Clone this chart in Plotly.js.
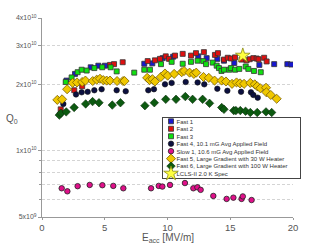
<!DOCTYPE html>
<html>
<head>
<meta charset="utf-8">
<script src="https://cdn.plot.ly/plotly-3.0.1.min.js"></script>
<style>html,body{margin:0;padding:0;background:#fff;}#chart{width:325px;height:244px;}</style>
</head>
<body>
<div id="chart"></div>
<script>
// ---- data (E_acc in MV/m, Q0) ----
const fast1E = [1.95, 2.63, 3.88, 4.49, 5.02, 8.15, 8.79, 9.62, 10.45, 12.45, 13.12, 13.97, 14.5, 15.32, 17.32, 18.5, 19.55, 19.87];
const fast1Q = [2.08e10, 2.23e10, 2.39e10, 2.43e10, 2.43e10, 2.48e10, 2.49e10, 2.63e10, 2.67e10, 2.68e10, 2.63e10, 2.61e10, 2.56e10, 2.50e10, 2.45e10, 2.47e10, 2.47e10, 2.46e10];

const fast2E = [1.49, 2.57, 3.2, 5.42, 5.74, 6.43, 8.42, 9.0, 9.4, 9.86, 10.12, 10.6, 11.21, 11.87, 12.27, 12.9, 13.78, 14.02, 14.5, 14.8, 15.05, 15.38, 15.9, 16.3, 16.55, 16.84, 17.1, 17.25, 17.7, 17.9];
const fast2Q = [1.54e10, 1.88e10, 1.96e10, 2.45e10, 2.47e10, 2.52e10, 2.55e10, 2.57e10, 2.61e10, 2.68e10, 2.61e10, 2.70e10, 2.75e10, 2.70e10, 2.77e10, 2.80e10, 2.72e10, 2.77e10, 2.59e10, 2.64e10, 2.62e10, 2.65e10, 2.59e10, 2.57e10, 2.60e10, 2.63e10, 2.62e10, 2.60e10, 2.64e10, 2.54e10];

const fast3E = [1.89, 2.36, 2.84, 3.16, 3.56, 4.17, 4.8, 5.47, 5.95, 7.35, 8.15, 8.6, 9.48, 10.33, 11.21, 11.87, 12.4, 12.85, 13.07, 13.6, 13.92, 14.1, 14.3, 14.5, 14.92, 15.05, 15.38, 15.72, 16.23, 16.44, 16.89, 17.43];
const fast3Q = [2.05e10, 2.15e10, 2.27e10, 2.33e10, 2.31e10, 2.37e10, 2.39e10, 2.39e10, 2.29e10, 2.26e10, 2.33e10, 2.33e10, 2.47e10, 2.53e10, 2.48e10, 2.53e10, 2.56e10, 2.55e10, 2.47e10, 2.51e10, 2.43e10, 2.37e10, 2.30e10, 2.33e10, 2.33e10, 2.37e10, 2.33e10, 2.35e10, 2.41e10, 2.35e10, 2.30e10, 2.27e10];

const fast4E = [1.7, 2.71, 3.16, 3.64, 4.17, 4.75, 5.95, 6.67, 8.47, 8.92, 9.8, 10.33, 11.45, 12.4, 12.93, 13.97, 14.77, 15.86, 16.65, 16.84, 17.19];
const fast4Q = [1.63e10, 1.80e10, 1.84e10, 1.85e10, 1.88e10, 1.90e10, 1.88e10, 1.86e10, 1.88e10, 1.90e10, 2.00e10, 2.03e10, 2.05e10, 2.04e10, 2.00e10, 1.91e10, 1.87e10, 1.85e10, 1.84e10, 1.79e10, 1.74e10];

const slow1E = [1.57, 2.02, 2.84, 3.8, 4.81, 5.68, 6.48, 8.69, 9.3, 9.59, 10.2, 11.39, 12.06, 12.38, 12.64, 13.65, 14.71, 15.25, 15.9, 16.0, 16.7];
const slow1Q = [6.75e9, 6.54e9, 6.9e9, 6.99e9, 6.97e9, 6.92e9, 6.75e9, 6.75e9, 6.92e9, 6.87e9, 6.99e9, 7.13e9, 6.75e9, 6.82e9, 6.64e9, 6.23e9, 6.04e9, 6.12e9, 6.04e9, 6.2e9, 5.97e9];

const fast5E = [1.22, 1.6, 2.0, 2.44, 2.79, 3.2, 3.46, 4.04, 4.36, 4.62, 4.88, 5.15, 5.42, 5.98, 6.45, 6.58, 8.38, 8.58, 8.8, 9.0, 9.47, 9.8, 10.01, 10.53, 11.13, 11.32, 11.76, 12.1, 12.29, 12.87, 13.29, 13.75, 14.31, 14.66, 15.14, 15.5, 15.78, 16.1, 16.6, 16.95, 17.15, 17.4, 17.85, 17.88, 18.23, 18.7];
const fast5Q = [1.70e10, 1.71e10, 1.90e10, 2.03e10, 2.04e10, 2.05e10, 2.08e10, 2.07e10, 2.10e10, 2.12e10, 2.09e10, 2.08e10, 2.08e10, 2.07e10, 2.07e10, 2.07e10, 2.14e10, 2.09e10, 2.11e10, 2.06e10, 2.16e10, 2.24e10, 2.19e10, 2.23e10, 2.27e10, 2.30e10, 2.26e10, 2.23e10, 2.26e10, 2.16e10, 2.14e10, 2.08e10, 2.08e10, 2.06e10, 2.01e10, 2.04e10, 2.02e10, 2.01e10, 2.03e10, 2.00e10, 1.96e10, 1.92e10, 1.93e10, 1.84e10, 1.79e10, 1.72e10];

const fast6E = [1.38, 1.51, 1.93, 2.56, 3.48, 4.03, 4.54, 5.6, 6.25, 8.2, 8.95, 9.86, 10.68, 11.42, 12.0, 12.8, 13.35, 14.32, 14.5, 15.28, 15.45, 15.8, 16.22, 16.6, 17.15, 17.85, 18.3];
const fast6Q = [1.45e10, 1.48e10, 1.50e10, 1.57e10, 1.63e10, 1.67e10, 1.65e10, 1.61e10, 1.65e10, 1.60e10, 1.65e10, 1.71e10, 1.71e10, 1.76e10, 1.71e10, 1.71e10, 1.64e10, 1.57e10, 1.54e10, 1.52e10, 1.52e10, 1.52e10, 1.51e10, 1.49e10, 1.49e10, 1.50e10, 1.49e10];

const specE = [16];
const specQ = [2.7e10];

const seriesNames = [
  'Fast 1', 'Fast 2', 'Fast 3',
  'Fast 4, 10.1 mG Avg Applied Field',
  'Slow 1, 10.6 mG Avg Applied Field',
  'Fast 5, Large Gradient with 30 W Heater',
  'Fast 6, Large Gradient with 100 W Heater',
  'LCLS-II 2.0 K Spec'
];

const yTickVals = [5e9, 1e10, 2e10, 3e10, 4e10];
const yTickText = ['5x10<sup>9</sup>', '1x10<sup>10</sup>', '2x10<sup>10</sup>', '3x10<sup>10</sup>', '4x10<sup>10</sup>'];
const yMinorGrid = [6e9, 7e9, 8e9, 9e9];
const xTickVals = [0, 5, 10, 15, 20];

function mk(x, y, name, symbol, fill, line, size, lw) {
  return {
    type: 'scatter', mode: 'markers', x: x, y: y, name: name,
    marker: {symbol: symbol, color: fill, size: size, line: {color: line, width: lw}}
  };
}

const traces = [
  mk(fast1E, fast1Q, seriesNames[0], 'square', '#1818d0', '#333', 5, 0.8),
  mk(fast2E, fast2Q, seriesNames[1], 'square', '#e01010', '#333', 5, 0.8),
  mk(fast3E, fast3Q, seriesNames[2], 'square', '#10e010', '#333', 5, 0.8),
  mk(fast4E, fast4Q, seriesNames[3], 'circle', '#0c1040', '#111', 5.5, 0.6),
  mk(slow1E, slow1Q, seriesNames[4], 'circle', '#e0108a', '#222', 5.5, 0.8),
  mk(fast5E, fast5Q, seriesNames[5], 'diamond', '#f0c800', '#7a6000', 7, 0.8),
  mk(fast6E, fast6Q, seriesNames[6], 'diamond', '#0c5a10', '#0a2a0a', 6.5, 0.6),
  mk(specE, specQ, seriesNames[7], 'star', '#ffff40', '#8a8a10', 11, 0.8)
];

const grey = '#555';
const layout = {
  width: 325, height: 244,
  margin: {l: 42, r: 32, t: 18, b: 27, pad: 0},
  paper_bgcolor: '#fff', plot_bgcolor: '#fff',
  font: {family: 'Liberation Sans, Arial, sans-serif', color: grey, size: 9},
  showlegend: true,
  legend: {
    x: 0, y: 1, xanchor: 'left', yanchor: 'top',
    bgcolor: '#fff', bordercolor: '#444', borderwidth: 1,
    font: {size: 6, color: '#333', family: 'Liberation Sans, Arial, sans-serif'}
  },
  xaxis: {
    range: [0, 20], tickmode: 'array', tickvals: xTickVals,
    showgrid: false, zeroline: false, showline: true, linecolor: '#999', linewidth: 1,
    ticks: 'outside', ticklen: 2, tickcolor: '#999',
    tickfont: {size: 9.5, color: grey}, automargin: false
  },
  yaxis: {
    type: 'log', range: [Math.log10(5e9), Math.log10(4e10)],
    tickmode: 'array', tickvals: yTickVals, ticktext: yTickText,
    showgrid: true, gridcolor: '#d4d4d4', gridwidth: 1, griddash: '3px,2px',
    minor: {tickmode: 'array', tickvals: yMinorGrid, showgrid: true, gridcolor: '#d4d4d4',
            gridwidth: 1, griddash: '3px,2px', ticks: 'outside', ticklen: 2, tickcolor: '#999'},
    zeroline: false, showline: true, linecolor: '#999', linewidth: 1,
    ticks: 'outside', ticklen: 3, tickcolor: '#999',
    tickfont: {size: 7, color: grey}, automargin: false
  },
  annotations: [
    {xref: 'paper', yref: 'paper', x: 0.5, y: -0.108, xanchor: 'center', yanchor: 'middle',
     text: 'E<sub>acc</sub> [MV/m]', showarrow: false, font: {size: 10, color: grey}},
    {xref: 'paper', yref: 'paper', x: -0.12, y: 0.49, xanchor: 'center', yanchor: 'middle',
     text: 'Q<sub>0</sub>', showarrow: false, font: {size: 10, color: grey}}
  ]
};

const gd = document.getElementById('chart');
Plotly.newPlot(gd, traces, layout, {staticPlot: true, displayModeBar: false}).then(function () {
  // compact the legend box to match the reference layout
  const lg = gd.querySelector('g.legend');
  if (!lg) return;
  const LX = 162, LY = 117, LW = 138, LH = 61, step = 7.47, first = 4.3;
  lg.setAttribute('transform', 'translate(' + LX + ',' + LY + ')');
  const bg = lg.querySelector('rect.bg');
  if (bg) { bg.setAttribute('width', LW); bg.setAttribute('height', LH); }
  const sb = lg.querySelector('g.scrollbox');
  if (sb) { sb.removeAttribute('clip-path'); sb.setAttribute('transform', 'translate(0,0)'); }
  lg.querySelectorAll('g.traces').forEach(function (g, i) {
    g.setAttribute('transform', 'translate(0,' + (first + i * step) + ')');
    const t = g.querySelector('text.legendtext');
    if (t) t.setAttribute('x', 14.5);
    g.querySelectorAll('g.legendpoints path').forEach(function (p) {
      p.setAttribute('transform', 'translate(9,0)');
    });
  });
});
</script>
</body>
</html>
